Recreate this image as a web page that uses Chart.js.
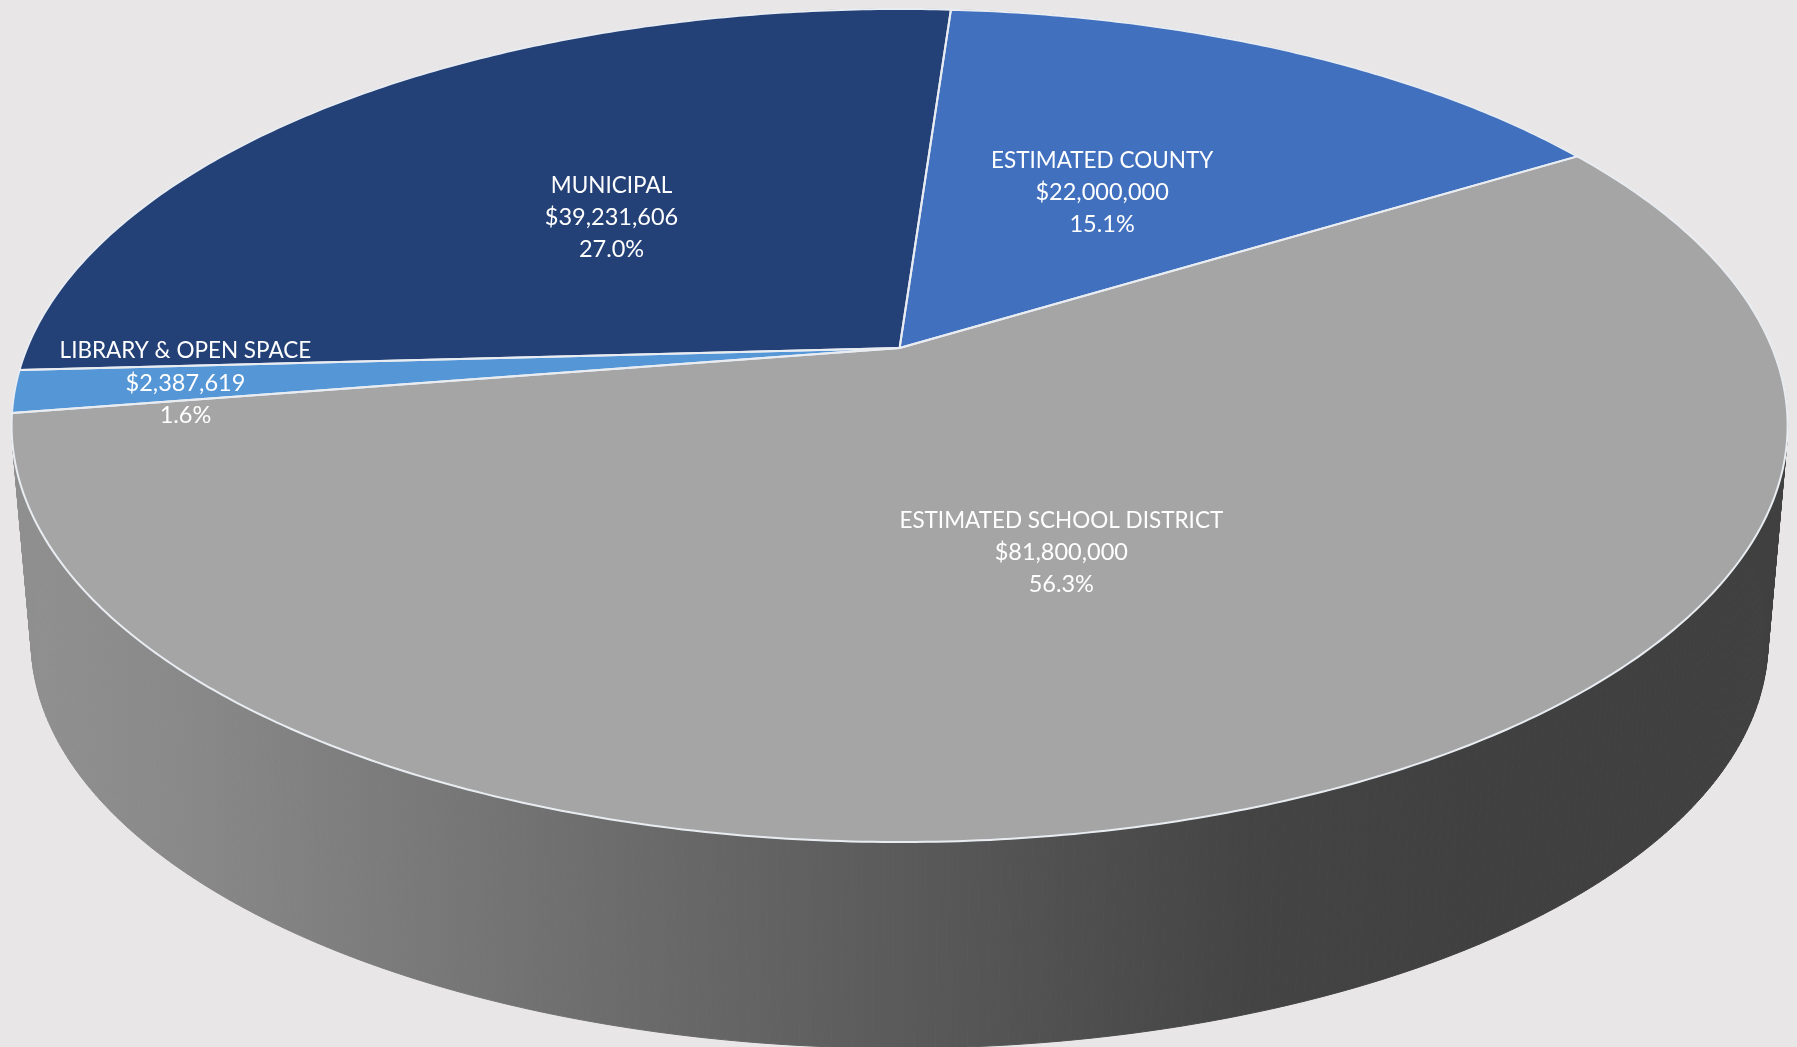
<!DOCTYPE html>
<html>
<head>
<meta charset="utf-8">
<title>Estimated property tax shares</title>
<style>
  html, body { margin: 0; padding: 0; background: #e8e6e6; overflow: hidden; }
  canvas { display: block; }
</style>
<script src="https://cdn.jsdelivr.net/npm/chart.js@4/dist/chart.umd.min.js"></script>
</head>
<body>
<canvas id="tax-chart" width="1797" height="1047"></canvas>
<script>
const categories = ['ESTIMATED COUNTY', 'ESTIMATED SCHOOL DISTRICT', 'LIBRARY & OPEN SPACE', 'MUNICIPAL'];
const amounts = [22000000, 81800000, 2387619, 39231606];
const sliceColors = ['#4170bf', '#a5a5a5', '#5596d6', '#244177'];
const labelRadius = [0.5, 0.5, 0.81, 0.5];
const labelNudge = [[-7, 4], [-4, -2], [0, 0], [-1, 4]];

// the pie is seen in perspective: unit circle -> picture
const view = { cx: 899.6, apexY: 348, a: 872.5, b: 402.1, tilt: -0.1861 };
const base = { apexY: 565, shrink: 0.978 };

function project(angle, r, lower) {
    const u = Math.cos(angle) * r;
    const v = Math.sin(angle) * r;
    const w = 1 + view.tilt * v;
    const k = lower ? base.shrink : 1;
    return {
        x: view.cx + k * view.a * u / w,
        y: (lower ? base.apexY : view.apexY) + k * view.b * v / w
    };
}

function arcPoints(start, end, lower) {
    const steps = Math.max(2, Math.ceil((end - start) / 0.01));
    const pts = [];
    for (let i = 0; i <= steps; i++) {
        pts.push(project(start + (end - start) * i / steps, 1, lower));
    }
    return pts;
}

function traceLine(ctx, pts) {
    pts.forEach(function(p) { ctx.lineTo(p.x, p.y); });
}

function traceSlice(ctx, arc) {
    const apex = project(0, 0, false);
    ctx.beginPath();
    ctx.moveTo(apex.x, apex.y);
    traceLine(ctx, arcPoints(arc.startAngle, arc.endAngle, false));
    ctx.closePath();
}

const perspectivePie = {
    id: 'perspectivePie',
    beforeDatasetDraw(chart, args) {
        const ctx = chart.ctx;
        const arcs = args.meta.data;

        // side wall first, the top covers what is behind
        const shade = ctx.createLinearGradient(40, 0, 1480, 0);
        shade.addColorStop(0, '#8f8f8f');
        shade.addColorStop(0.1, '#898989');
        shade.addColorStop(0.4, '#6c6c6c');
        shade.addColorStop(0.6, '#5a5a5a');
        shade.addColorStop(0.84, '#444444');
        shade.addColorStop(1, '#404040');
        ctx.save();
        ctx.fillStyle = shade;
        ctx.strokeStyle = shade;
        ctx.lineWidth = 1;
        arcs.forEach(function(arc) {
            const top = arcPoints(arc.startAngle, arc.endAngle, false);
            const bottom = arcPoints(arc.startAngle, arc.endAngle, true);
            for (let i = 0; i < top.length - 1; i++) {
                ctx.beginPath();
                ctx.moveTo(top[i].x, top[i].y);
                ctx.lineTo(top[i + 1].x, top[i + 1].y);
                ctx.lineTo(bottom[i + 1].x, bottom[i + 1].y);
                ctx.lineTo(bottom[i].x, bottom[i].y);
                ctx.closePath();
                ctx.fill();
                ctx.stroke();
            }
        });

        arcs.forEach(function(arc) {
            traceSlice(ctx, arc);
            ctx.fillStyle = arc.options.backgroundColor;
            ctx.fill();
        });
        arcs.forEach(function(arc) {
            traceSlice(ctx, arc);
            ctx.strokeStyle = arc.options.borderColor;
            ctx.lineWidth = arc.options.borderWidth;
            ctx.lineJoin = 'round';
            ctx.stroke();
        });
        ctx.restore();
        return false;
    },
    afterDatasetsDraw(chart) {
        const ctx = chart.ctx;
        const arcs = chart.getDatasetMeta(0).data;
        const total = amounts.reduce((sum, v) => sum + v, 0);
        ctx.save();
        ctx.fillStyle = '#ffffff';
        ctx.textAlign = 'center';
        ctx.textBaseline = 'middle';
        arcs.forEach(function(arc, i) {
            const mid = (arc.startAngle + arc.endAngle) / 2;
            const at = project(mid, labelRadius[i], false);
            const x = at.x + labelNudge[i][0];
            const y = at.y + labelNudge[i][1];
            ctx.font = '22.5px Lato';
            ctx.fillText(categories[i], x, y - 32);
            ctx.font = '23.5px Lato';
            ctx.fillText('$' + amounts[i].toLocaleString('en-US'), x, y);
            ctx.fillText((amounts[i] / total * 100).toFixed(1) + '%', x, y + 32);
        });
        ctx.restore();
    }
};

new Chart(document.getElementById('tax-chart'), {
    type: 'pie',
    data: {
        labels: categories,
        datasets: [{
            data: amounts,
            backgroundColor: sliceColors,
            borderColor: '#e9edf2',
            borderWidth: 2
        }]
    },
    options: {
        responsive: false,
        animation: false,
        rotation: 4,
        plugins: {
            legend: { display: false },
            tooltip: { enabled: false }
        }
    },
    plugins: [perspectivePie]
});
</script>
</body>
</html>
